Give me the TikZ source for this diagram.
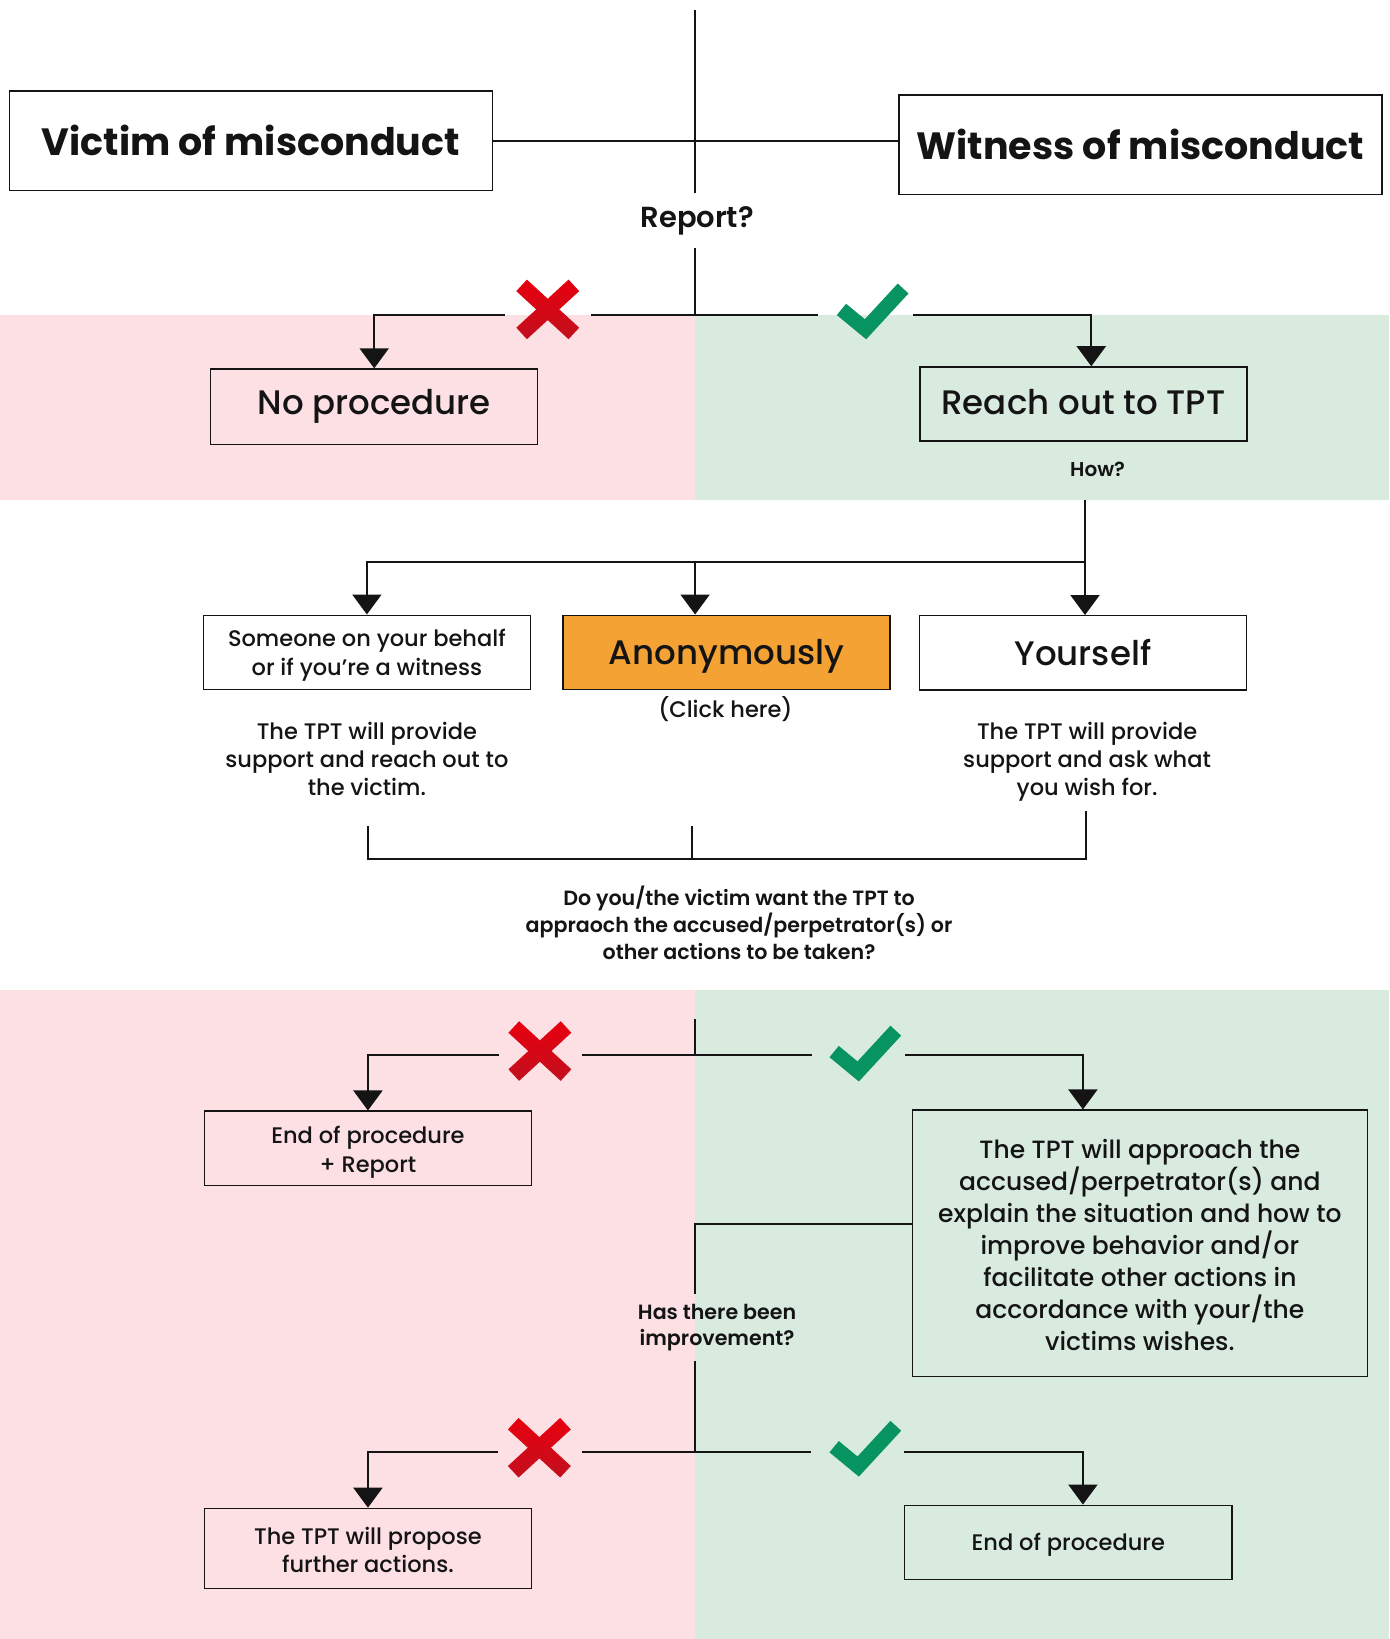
\documentclass[tikz,border=0pt]{standalone}
\usepackage{fontspec}
\setmainfont{Poppins}
\newfontfamily\pmed{Poppins Medium}
\newfontfamily\psemi{Poppins SemiBold}
\usetikzlibrary{arrows.meta}
\definecolor{pinkbg}{HTML}{FCE0E4}
\definecolor{greenbg}{HTML}{D9EADF}
\definecolor{orangefill}{HTML}{F4A233}
\definecolor{crosstop}{HTML}{E8000E}
\definecolor{crossbot}{HTML}{C20F1E}
\definecolor{checkgreen}{HTML}{079460}
\definecolor{ink}{HTML}{141414}
\def\U{1.0451pt}
\newcommand\shiftdown[2]{\raisebox{-#1}[\height][\depth]{#2}}
\tikzset{
  box/.style={draw=ink, line width=1.3pt, minimum width=313*\U, minimum height=71*\U, inner sep=0pt, align=center, text=ink},
  titlebox/.style={box, minimum width=462*\U, minimum height=95*\U, font=\bfseries\fontsize{38}{46}\selectfont},
  midtext/.style={font=\pmed\fontsize{34}{40}\selectfont},
  smallfont/.style={font=\pmed\fontsize{22.5}{28.2}\selectfont},
  smalltext/.style={text=ink, align=center, inner sep=0pt, smallfont},
  boldq/.style={text=ink, align=center, inner sep=0pt, font=\psemi\fontsize{20.6}{26.7}\selectfont},
  conn/.style={draw=ink, line width=2pt},
  arr/.style={conn, -{Triangle[width=29pt,length=20pt]}},
}
\newcommand\xmark[1]{%
  \begin{scope}[shift={(#1)}]
    \shade[top color=crosstop, bottom color=crossbot] (-19.92,-28.52) -- (30.08,17.48) -- (19.92,28.52) -- (-30.08,-17.48) -- cycle;
    \shade[top color=crosstop, bottom color=crossbot] (19.92,-28.52) -- (-30.08,17.48) -- (-19.92,28.52) -- (30.08,-17.48) -- cycle;
  \end{scope}}
\newcommand\vmark[1]{%
  \begin{scope}[shift={(#1)}]
    \draw[checkgreen, line width=14*\U, miter limit=10] (-23,-19) -- (0,0) -- (36,-39);
  \end{scope}}
\begin{document}
\begin{tikzpicture}[x=1.0451pt,y=-1.0451pt]
\useasboundingbox (0,0) rectangle (1329,1568);
\fill[white] (0,0) rectangle (1329,1568);
\fill[pinkbg] (0,301) rectangle (665,478);
\fill[greenbg] (665,301) rectangle (1329,478);
\fill[pinkbg] (0,947) rectangle (665,1568);
\fill[greenbg] (665,947) rectangle (1329,1568);

% nodes
\node[titlebox] (victim) at (240,134.5) {Victim of misconduct};
\node[titlebox] (witness) at (1091,138.5) {Witness of misconduct};
\node[boldq, font=\psemi\fontsize{29}{33}\selectfont, minimum height=52*\U] (report) at (667,211) {Report?};
\node[box, midtext, minimum height=72*\U] (noproc) at (358,389) {No procedure};
\node[box, midtext] (reach) at (1036.5,386.5) {\shiftdown{-2pt}{Reach out to TPT}};
\node[boldq, font=\psemi\fontsize{20}{24}\selectfont] (how) at (1050,449) {How?};
\node[box, smallfont] (someone) at (351,624) {\shiftdown{3pt}{\parbox{300pt}{\centering Someone on your behalf\\or if you’re a witness}}};
\node[box, midtext, fill=orangefill] (anon) at (695,624) {\shiftdown{4pt}{Anonymously}};
\node[smalltext] (click) at (694,678) {(Click here)};
\node[box, midtext] (yourself) at (1036,624.5) {Yourself};
\node[smalltext] (desc1) at (351,726) {The TPT will provide\\support and reach out to\\the victim.};
\node[smalltext] (desc2) at (1040,729) {The TPT will provide\\support and ask what\\you wish for.};
\node[boldq] (question) at (707,883) {Do you/the victim want the TPT to\\appraoch the accused/perpetrator(s) or\\other actions to be taken?};
\node[box, smallfont] (endrep) at (352,1098.5) {\shiftdown{4pt}{\parbox{300pt}{\centering End of procedure\\+ Report}}};
\node[box, minimum width=435*\U, minimum height=255*\U, font=\pmed\fontsize{25}{32}\selectfont] (approach) at (1090.5,1189.5) {\shiftdown{2pt}{\parbox{440pt}{\centering The TPT will approach the\\accused/perpetrator(s) and\\explain the situation and how to\\improve behavior and/or\\facilitate other actions in\\accordance with your/the\\victims wishes.}}};
\node[boldq, minimum height=64*\U] (improve) at (686,1270) {Has there been\\improvement?};
\node[box, minimum height=77*\U, smallfont] (propose) at (352,1481.5) {\shiftdown{1pt}{\parbox{300pt}{\centering The TPT will propose\\further actions.}}};
\node[box, smallfont] (endproc) at (1022,1475.5) {\shiftdown{2pt}{End of procedure}};

% coordinates
\coordinate (top) at (665,10);
\coordinate (rsplit) at (665,301);
\coordinate (x1a) at (483,301);
\coordinate (x1b) at (565,301);
\coordinate (c1a) at (783,301);
\coordinate (c1b) at (873,301);
\coordinate (r1) at (1044,301);
\coordinate (howtop) at (1038,478);
\coordinate (howsplit) at (1038,538);
\coordinate (anonx) at (665,538);
\coordinate (b1) at (352,790);
\coordinate (b2) at (662,790);
\coordinate (b3) at (1039,776);
\coordinate (qs) at (665,975);
\coordinate (qsplit) at (665,1009);
\coordinate (x2a) at (477,1009);
\coordinate (x2b) at (557,1009);
\coordinate (c2a) at (777,1009);
\coordinate (c2b) at (866,1009);
\coordinate (a2) at (1036,1009);
\coordinate (aw) at (873,1171);
\coordinate (isplit) at (665,1389);
\coordinate (x3a) at (476,1389);
\coordinate (x3b) at (557,1389);
\coordinate (c3a) at (776,1389);
\coordinate (c3b) at (865,1389);
\coordinate (e3) at (1036,1389);

% connectors
\draw[conn] (victim.east) -- (victim.east -| witness.west);
\draw[conn] (top) -- (top |- report.north);
\draw[conn] (top |- report.south) -- (rsplit);
\draw[conn] (rsplit) -- (x1b);
\draw[arr] (x1a) -| (noproc.north);
\draw[conn] (rsplit) -- (c1a);
\draw[arr] (c1b) -- (r1) -- (r1 |- reach.north);

\draw[arr] (howtop) -- (howtop |- yourself.north);
\draw[arr] (howsplit) -| (someone.north);
\draw[arr] (anonx) -- (anonx |- anon.north);

\draw[conn] (b1) -- (b1 |- 0,822) -- (b3 |- 0,822) -- (b3);
\draw[conn] (b2) -- (b2 |- 0,822);

\draw[conn] (qs) -- (qsplit);
\draw[conn] (qsplit) -- (x2b);
\draw[arr] (x2a) -| (endrep.north);
\draw[conn] (qsplit) -- (c2a);
\draw[arr] (c2b) -- (a2) -- (a2 |- approach.north);

\draw[conn] (aw) -| (isplit |- improve.north);
\draw[conn] (isplit |- improve.south) -- (isplit);
\draw[conn] (isplit) -- (x3b);
\draw[arr] (x3a) -| (propose.north);
\draw[conn] (isplit) -- (c3a);
\draw[arr] (c3b) -- (e3) -- (e3 |- endproc.north);

% marks
\xmark{524,296}
\vmark{828,315}
\xmark{516.5,1005.5}
\vmark{821,1025}
\xmark{516,1385}
\vmark{821,1403}
\end{tikzpicture}
\end{document}
